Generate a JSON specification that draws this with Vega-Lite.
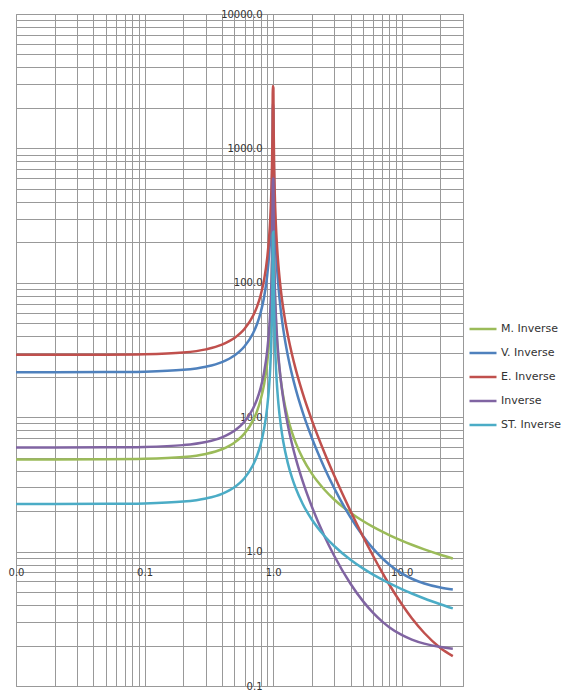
{
  "$schema": "https://vega.github.io/schema/vega-lite/v6.json",
  "width": 447,
  "height": 672,
  "autosize": {"type": "none"},
  "padding": {"left": 16, "top": 14, "right": 98, "bottom": 11},
  "background": "white",
  "config": {
    "view": {"stroke": "#999999", "strokeWidth": 1},
    "font": "DejaVu Sans",
    "axis": {
      "grid": true, "gridColor": "#999999", "gridOpacity": 1, "gridWidth": 1,
      "domain": false, "ticks": false,
      "labelFont": "DejaVu Sans", "labelFontSize": 10, "labelColor": "#333333",
      "labelOverlap": false, "labelFlush": false, "labelBound": false
    },
    "legend": {
      "orient": "none", "legendX": 452, "legendY": 300,
      "symbolType": "stroke", "symbolSize": 729, "symbolStrokeWidth": 2.5,
      "labelFont": "DejaVu Sans", "labelFontSize": 11, "labelColor": "#333333",
      "labelOffset": 3, "rowPadding": 4, "padding": 0
    }
  },
  "data": {"values": [
    {"s":"M. Inverse","x":0.01,"y":4.85},{"s":"M. Inverse","x":0.02,"y":4.852},{"s":"M. Inverse","x":0.05,"y":4.862},{"s":"M. Inverse","x":0.1,"y":4.899},{"s":"M. Inverse","x":0.2,"y":5.052},{"s":"M. Inverse","x":0.3,"y":5.33},{"s":"M. Inverse","x":0.4,"y":5.774},{"s":"M. Inverse","x":0.5,"y":6.467},{"s":"M. Inverse","x":0.6,"y":7.578},{"s":"M. Inverse","x":0.7,"y":9.51},{"s":"M. Inverse","x":0.75,"y":11.086},{"s":"M. Inverse","x":0.8,"y":13.472},{"s":"M. Inverse","x":0.85,"y":17.477},{"s":"M. Inverse","x":0.9,"y":25.526},{"s":"M. Inverse","x":0.93,"y":35.899},{"s":"M. Inverse","x":0.95,"y":49.744},{"s":"M. Inverse","x":0.97,"y":82.06},{"s":"M. Inverse","x":0.98,"y":122.48},{"s":"M. Inverse","x":0.99,"y":243.72},{"s":"M. Inverse","x":0.995,"y":486.2},
    {"s":"M. Inverse","x":1.005,"y":516.4},{"s":"M. Inverse","x":1.01,"y":258.9},{"s":"M. Inverse","x":1.02,"y":130.1},{"s":"M. Inverse","x":1.03,"y":87.2},{"s":"M. Inverse","x":1.05,"y":52.86},{"s":"M. Inverse","x":1.07,"y":38.15},{"s":"M. Inverse","x":1.1,"y":27.11},{"s":"M. Inverse","x":1.15,"y":18.51},{"s":"M. Inverse","x":1.2,"y":14.21},{"s":"M. Inverse","x":1.3,"y":9.903},{"s":"M. Inverse","x":1.4,"y":7.741},{"s":"M. Inverse","x":1.5,"y":6.439},{"s":"M. Inverse","x":1.7,"y":4.941},{"s":"M. Inverse","x":2,"y":3.803},{"s":"M. Inverse","x":2.5,"y":2.899},{"s":"M. Inverse","x":3,"y":2.432},{"s":"M. Inverse","x":4,"y":1.946},{"s":"M. Inverse","x":5,"y":1.688},{"s":"M. Inverse","x":6,"y":1.526},{"s":"M. Inverse","x":7,"y":1.412},{"s":"M. Inverse","x":8,"y":1.327},{"s":"M. Inverse","x":10,"y":1.207},{"s":"M. Inverse","x":12,"y":1.125},{"s":"M. Inverse","x":15,"y":1.039},{"s":"M. Inverse","x":20,"y":0.948},{"s":"M. Inverse","x":25,"y":0.888},
    {"s":"V. Inverse","x":0.01,"y":21.6},{"s":"V. Inverse","x":0.02,"y":21.61},{"s":"V. Inverse","x":0.05,"y":21.65},{"s":"V. Inverse","x":0.1,"y":21.82},{"s":"V. Inverse","x":0.2,"y":22.5},{"s":"V. Inverse","x":0.3,"y":23.74},{"s":"V. Inverse","x":0.4,"y":25.71},{"s":"V. Inverse","x":0.5,"y":28.8},{"s":"V. Inverse","x":0.6,"y":33.75},{"s":"V. Inverse","x":0.7,"y":42.35},{"s":"V. Inverse","x":0.75,"y":49.37},{"s":"V. Inverse","x":0.8,"y":60.0},{"s":"V. Inverse","x":0.85,"y":77.84},{"s":"V. Inverse","x":0.9,"y":113.68},{"s":"V. Inverse","x":0.93,"y":159.88},{"s":"V. Inverse","x":0.95,"y":221.54},{"s":"V. Inverse","x":0.97,"y":365.47},{"s":"V. Inverse","x":0.98,"y":545.5},{"s":"V. Inverse","x":0.99,"y":1085.4},{"s":"V. Inverse","x":0.995,"y":2165.4},
    {"s":"V. Inverse","x":1.005,"y":1956.6},{"s":"V. Inverse","x":1.01,"y":976.1},{"s":"V. Inverse","x":1.02,"y":485.9},{"s":"V. Inverse","x":1.03,"y":322.5},{"s":"V. Inverse","x":1.05,"y":191.8},{"s":"V. Inverse","x":1.07,"y":135.8},{"s":"V. Inverse","x":1.1,"y":93.87},{"s":"V. Inverse","x":1.15,"y":61.3},{"s":"V. Inverse","x":1.2,"y":45.06},{"s":"V. Inverse","x":1.3,"y":28.91},{"s":"V. Inverse","x":1.4,"y":20.92},{"s":"V. Inverse","x":1.5,"y":16.18},{"s":"V. Inverse","x":1.7,"y":10.87},{"s":"V. Inverse","x":2,"y":7.028},{"s":"V. Inverse","x":2.5,"y":4.226},{"s":"V. Inverse","x":3,"y":2.942},{"s":"V. Inverse","x":4,"y":1.798},{"s":"V. Inverse","x":5,"y":1.308},{"s":"V. Inverse","x":6,"y":1.051},{"s":"V. Inverse","x":7,"y":0.9},{"s":"V. Inverse","x":8,"y":0.802},{"s":"V. Inverse","x":10,"y":0.689},{"s":"V. Inverse","x":12,"y":0.628},{"s":"V. Inverse","x":15,"y":0.579},{"s":"V. Inverse","x":20,"y":0.54},{"s":"V. Inverse","x":25,"y":0.522},
    {"s":"E. Inverse","x":0.01,"y":29.1},{"s":"E. Inverse","x":0.02,"y":29.11},{"s":"E. Inverse","x":0.05,"y":29.17},{"s":"E. Inverse","x":0.1,"y":29.39},{"s":"E. Inverse","x":0.2,"y":30.31},{"s":"E. Inverse","x":0.3,"y":31.98},{"s":"E. Inverse","x":0.4,"y":34.64},{"s":"E. Inverse","x":0.5,"y":38.8},{"s":"E. Inverse","x":0.6,"y":45.47},{"s":"E. Inverse","x":0.7,"y":57.06},{"s":"E. Inverse","x":0.75,"y":66.51},{"s":"E. Inverse","x":0.8,"y":80.83},{"s":"E. Inverse","x":0.85,"y":104.86},{"s":"E. Inverse","x":0.9,"y":153.16},{"s":"E. Inverse","x":0.93,"y":215.4},{"s":"E. Inverse","x":0.95,"y":298.46},{"s":"E. Inverse","x":0.97,"y":492.37},{"s":"E. Inverse","x":0.98,"y":734.9},{"s":"E. Inverse","x":0.99,"y":1462.3},{"s":"E. Inverse","x":0.995,"y":2917.3},
    {"s":"E. Inverse","x":1.005,"y":2813.1},{"s":"E. Inverse","x":1.01,"y":1403.1},{"s":"E. Inverse","x":1.02,"y":698.1},{"s":"E. Inverse","x":1.03,"y":463.2},{"s":"E. Inverse","x":1.05,"y":275.2},{"s":"E. Inverse","x":1.07,"y":194.7},{"s":"E. Inverse","x":1.1,"y":134.4},{"s":"E. Inverse","x":1.15,"y":87.56},{"s":"E. Inverse","x":1.2,"y":64.21},{"s":"E. Inverse","x":1.3,"y":40.99},{"s":"E. Inverse","x":1.4,"y":29.5},{"s":"E. Inverse","x":1.5,"y":22.68},{"s":"E. Inverse","x":1.7,"y":15.04},{"s":"E. Inverse","x":2,"y":9.52},{"s":"E. Inverse","x":2.5,"y":5.49},{"s":"E. Inverse","x":3,"y":3.647},{"s":"E. Inverse","x":4,"y":2.002},{"s":"E. Inverse","x":5,"y":1.297},{"s":"E. Inverse","x":6,"y":0.927},{"s":"E. Inverse","x":7,"y":0.709},{"s":"E. Inverse","x":8,"y":0.569},{"s":"E. Inverse","x":10,"y":0.407},{"s":"E. Inverse","x":12,"y":0.319},{"s":"E. Inverse","x":15,"y":0.248},{"s":"E. Inverse","x":20,"y":0.192},{"s":"E. Inverse","x":25,"y":0.167},
    {"s":"Inverse","x":0.01,"y":5.95},{"s":"Inverse","x":0.02,"y":5.952},{"s":"Inverse","x":0.05,"y":5.965},{"s":"Inverse","x":0.1,"y":6.01},{"s":"Inverse","x":0.2,"y":6.198},{"s":"Inverse","x":0.3,"y":6.538},{"s":"Inverse","x":0.4,"y":7.083},{"s":"Inverse","x":0.5,"y":7.933},{"s":"Inverse","x":0.6,"y":9.297},{"s":"Inverse","x":0.7,"y":11.667},{"s":"Inverse","x":0.75,"y":13.6},{"s":"Inverse","x":0.8,"y":16.528},{"s":"Inverse","x":0.85,"y":21.441},{"s":"Inverse","x":0.9,"y":31.316},{"s":"Inverse","x":0.93,"y":44.041},{"s":"Inverse","x":0.95,"y":61.026},{"s":"Inverse","x":0.97,"y":100.67},{"s":"Inverse","x":0.98,"y":150.25},{"s":"Inverse","x":0.99,"y":298.99},{"s":"Inverse","x":0.995,"y":596.5},
    {"s":"Inverse","x":1.005,"y":593.7},{"s":"Inverse","x":1.01,"y":296.2},{"s":"Inverse","x":1.02,"y":147.46},{"s":"Inverse","x":1.03,"y":97.88},{"s":"Inverse","x":1.05,"y":58.23},{"s":"Inverse","x":1.07,"y":41.24},{"s":"Inverse","x":1.1,"y":28.51},{"s":"Inverse","x":1.15,"y":18.63},{"s":"Inverse","x":1.2,"y":13.7},{"s":"Inverse","x":1.3,"y":8.803},{"s":"Inverse","x":1.4,"y":6.378},{"s":"Inverse","x":1.5,"y":4.94},{"s":"Inverse","x":1.7,"y":3.328},{"s":"Inverse","x":2,"y":2.163},{"s":"Inverse","x":2.5,"y":1.313},{"s":"Inverse","x":3,"y":0.924},{"s":"Inverse","x":4,"y":0.577},{"s":"Inverse","x":5,"y":0.428},{"s":"Inverse","x":6,"y":0.35},{"s":"Inverse","x":7,"y":0.304},{"s":"Inverse","x":8,"y":0.274},{"s":"Inverse","x":10,"y":0.24},{"s":"Inverse","x":12,"y":0.2216},{"s":"Inverse","x":15,"y":0.2066},{"s":"Inverse","x":20,"y":0.1949},{"s":"Inverse","x":25,"y":0.1895},
    {"s":"ST. Inverse","x":0.01,"y":2.261},{"s":"ST. Inverse","x":0.02,"y":2.262},{"s":"ST. Inverse","x":0.05,"y":2.267},{"s":"ST. Inverse","x":0.1,"y":2.284},{"s":"ST. Inverse","x":0.2,"y":2.355},{"s":"ST. Inverse","x":0.3,"y":2.485},{"s":"ST. Inverse","x":0.4,"y":2.692},{"s":"ST. Inverse","x":0.5,"y":3.015},{"s":"ST. Inverse","x":0.6,"y":3.533},{"s":"ST. Inverse","x":0.7,"y":4.433},{"s":"ST. Inverse","x":0.75,"y":5.168},{"s":"ST. Inverse","x":0.8,"y":6.281},{"s":"ST. Inverse","x":0.85,"y":8.148},{"s":"ST. Inverse","x":0.9,"y":11.9},{"s":"ST. Inverse","x":0.93,"y":16.736},{"s":"ST. Inverse","x":0.95,"y":23.19},{"s":"ST. Inverse","x":0.97,"y":38.26},{"s":"ST. Inverse","x":0.98,"y":57.1},{"s":"ST. Inverse","x":0.99,"y":113.62},{"s":"ST. Inverse","x":0.995,"y":226.7},
    {"s":"ST. Inverse","x":1.005,"y":240.0},{"s":"ST. Inverse","x":1.01,"y":120.3},{"s":"ST. Inverse","x":1.02,"y":60.45},{"s":"ST. Inverse","x":1.03,"y":40.5},{"s":"ST. Inverse","x":1.05,"y":24.54},{"s":"ST. Inverse","x":1.07,"y":17.7},{"s":"ST. Inverse","x":1.1,"y":12.57},{"s":"ST. Inverse","x":1.15,"y":8.571},{"s":"ST. Inverse","x":1.2,"y":6.572},{"s":"ST. Inverse","x":1.3,"y":4.569},{"s":"ST. Inverse","x":1.4,"y":3.564},{"s":"ST. Inverse","x":1.5,"y":2.958},{"s":"ST. Inverse","x":1.7,"y":2.262},{"s":"ST. Inverse","x":2,"y":1.733},{"s":"ST. Inverse","x":2.5,"y":1.313},{"s":"ST. Inverse","x":3,"y":1.096},{"s":"ST. Inverse","x":4,"y":0.87},{"s":"ST. Inverse","x":5,"y":0.75},{"s":"ST. Inverse","x":6,"y":0.674},{"s":"ST. Inverse","x":7,"y":0.622},{"s":"ST. Inverse","x":8,"y":0.582},{"s":"ST. Inverse","x":10,"y":0.526},{"s":"ST. Inverse","x":12,"y":0.488},{"s":"ST. Inverse","x":15,"y":0.448},{"s":"ST. Inverse","x":20,"y":0.406},{"s":"ST. Inverse","x":25,"y":0.378}
  ]},
  "mark": {"type": "line", "strokeWidth": 2.5, "clip": true, "interpolate": "monotone"},
  "encoding": {
    "x": {
      "field": "x", "type": "quantitative", "title": null,
      "scale": {"type": "log", "domain": [0.01, 30]},
      "axis": {
        "values": [0.01,0.02,0.03,0.04,0.05,0.06,0.07,0.08,0.09,0.1,0.2,0.3,0.4,0.5,0.6,0.7,0.8,0.9,1,2,3,4,5,6,7,8,9,10,20,30],
        "offset": -134.4, "labelPadding": 16,
        "labelExpr": "indexof([0.01,0.1,1,10], datum.value) >= 0 ? format(datum.value, '.1f') : ''"
      }
    },
    "y": {
      "field": "y", "type": "quantitative", "title": null,
      "scale": {"type": "log", "domain": [0.1, 10000]},
      "axis": {
        "values": [0.1,0.2,0.3,0.4,0.5,0.6,0.7,0.8,0.9,1,2,3,4,5,6,7,8,9,10,20,30,40,50,60,70,80,90,100,200,300,400,500,600,700,800,900,1000,2000,3000,4000,5000,6000,7000,8000,9000,10000],
        "offset": -257, "labelPadding": 11,
        "labelExpr": "indexof([0.1,1,10,100,1000,10000], datum.value) >= 0 ? format(datum.value, '.1f') : ''"
      }
    },
    "color": {
      "field": "s", "type": "nominal",
      "scale": {
        "domain": ["M. Inverse", "V. Inverse", "E. Inverse", "Inverse", "ST. Inverse"],
        "range": ["#9BBB59", "#4F81BD", "#C0504D", "#8064A2", "#4BACC6"]
      },
      "legend": {"title": null}
    }
  }
}
